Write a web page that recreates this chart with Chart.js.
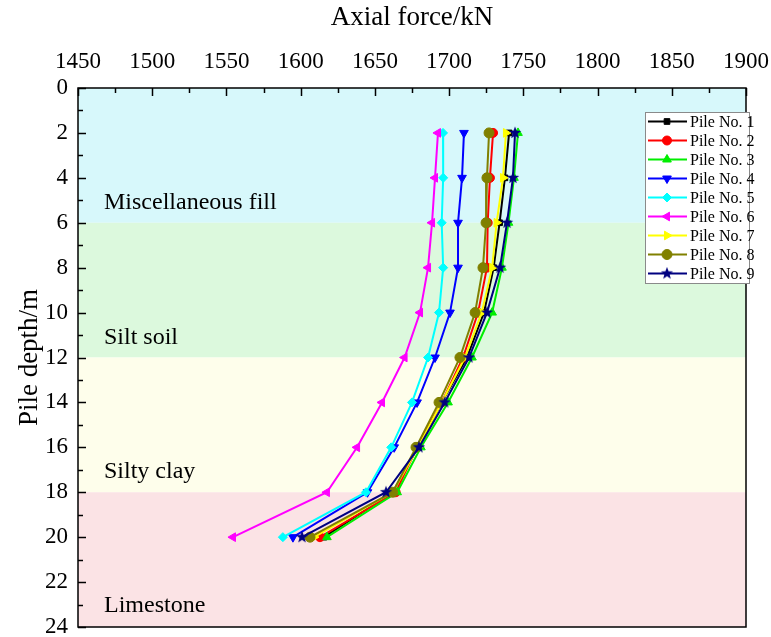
<!DOCTYPE html>
<html><head><meta charset="utf-8">
<script src="https://cdn.jsdelivr.net/npm/chart.js@4.4.1/dist/chart.umd.min.js"></script>
<style>html,body{margin:0;padding:0;background:#fff;overflow:hidden}</style>
</head><body>
<canvas id="c" width="771" height="637"></canvas>
<script>
// ---- data ----
const depths = [2, 4, 6, 8, 10, 12, 14, 16, 18, 20];
const pile1 = [1740.4, 1737.6, 1734.0, 1730.0, 1723.5, 1712.0, 1695.0, 1679.0, 1662.0, 1615.7];
const pile2 = [1729.6, 1727.5, 1726.0, 1725.5, 1719.5, 1709.4, 1695.0, 1678.4, 1664.0, 1613.0];
const pile3 = [1746.4, 1743.7, 1740.0, 1735.6, 1729.0, 1715.4, 1699.3, 1681.0, 1665.0, 1617.7];
const pile4 = [1710.0, 1708.7, 1706.0, 1706.0, 1700.6, 1690.5, 1678.4, 1663.0, 1645.0, 1594.8];
const pile5 = [1695.9, 1696.0, 1695.0, 1696.0, 1693.2, 1685.8, 1675.0, 1661.0, 1644.0, 1588.0];
const pile6 = [1692.5, 1690.5, 1688.5, 1685.8, 1680.4, 1670.0, 1654.8, 1638.0, 1617.7, 1554.4];
const pile7 = [1738.3, 1736.3, 1732.0, 1729.0, 1722.0, 1710.7, 1695.0, 1679.0, 1662.0, 1609.0];
const pile8 = [1726.9, 1725.5, 1724.9, 1722.8, 1717.5, 1707.3, 1693.2, 1677.7, 1662.0, 1606.3];
const pile9 = [1744.4, 1743.0, 1739.0, 1734.3, 1725.5, 1713.4, 1697.0, 1679.7, 1657.5, 1600.9];
const pileNames = ['Pile No. 1','Pile No. 2','Pile No. 3','Pile No. 4','Pile No. 5','Pile No. 6','Pile No. 7','Pile No. 8','Pile No. 9'];
const layerNames = ['Miscellaneous fill', 'Silt soil', 'Silty clay', 'Limestone'];
const layerTop = [0, 6, 12, 18];
const layerBottom = [6, 12, 18, 24];
const xTitle = 'Axial force/kN';
const yTitle = 'Pile depth/m';

// ---- styles ----
const SERIF = '"Liberation Serif", "Times New Roman", serif';
const pileColors = ['#000000','#ff0000','#00ee00','#0000ff','#00ffff','#ff00ff','#ffff00','#808000','#000080'];
const layerColors = ['#d7f8fb','#dcf9dd','#fefeeb','#fbe3e5'];
const layerLabelDepth = [5.1, 11.1, 17.1, 23.05];

function makeStar(color) {
  const cv = document.createElement('canvas');
  cv.width = 14; cv.height = 14;
  const g = cv.getContext('2d');
  g.fillStyle = color;
  g.beginPath();
  for (let i = 0; i < 10; i++) {
    const r = i % 2 === 0 ? 6.5 : 2.7;
    const a = -Math.PI / 2 + i * Math.PI / 5;
    const px = 7 + r * Math.cos(a), py = 7 + r * Math.sin(a);
    i === 0 ? g.moveTo(px, py) : g.lineTo(px, py);
  }
  g.closePath(); g.fill();
  return cv;
}
const starImg = makeStar('#000080');
const pointStyles = ['rect','circle','triangle','triangle','rectRot','triangle','triangle','circle', starImg];
const pointRot = [0, 0, 0, 180, 0, -90, 90, 0, 0];
const pointRad = [4, 4.5, 5, 5, 4.5, 5, 5, 5, 6];

const allPiles = [pile1, pile2, pile3, pile4, pile5, pile6, pile7, pile8, pile9];
const datasets = allPiles.map((vals, i) => ({
  label: pileNames[i],
  data: vals.map((v, k) => ({ x: v, y: depths[k] })),
  borderColor: pileColors[i],
  backgroundColor: pileColors[i],
  pointBackgroundColor: pileColors[i],
  pointBorderColor: pileColors[i],
  pointStyle: pointStyles[i],
  pointRotation: pointRot[i],
  pointRadius: pointRad[i],
  pointBorderWidth: 1,
  borderWidth: 2,
  showLine: true,
  tension: 0,
  order: 10 - i
}));

const bgPlugin = {
  id: 'bg',
  beforeDraw(chart) {
    const { ctx, chartArea: a, scales: { x, y } } = chart;
    ctx.save();
    ctx.fillStyle = '#ffffff';
    ctx.fillRect(0, 0, chart.width, chart.height);
    for (let i = 0; i < layerNames.length; i++) {
      const y0 = y.getPixelForValue(layerTop[i]);
      const y1 = y.getPixelForValue(layerBottom[i]);
      ctx.fillStyle = layerColors[i];
      ctx.fillRect(a.left, y0, a.right - a.left, y1 - y0);
    }
    ctx.fillStyle = '#000';
    ctx.font = '24px ' + SERIF;
    ctx.textBaseline = 'middle';
    ctx.textAlign = 'left';
    for (let i = 0; i < layerNames.length; i++) {
      ctx.fillText(layerNames[i], a.left + 26, y.getPixelForValue(layerLabelDepth[i]));
    }
    ctx.restore();
  },
  afterDatasetsDraw(chart) {
    const { ctx, chartArea: a, scales: { x, y } } = chart;
    ctx.save();
    ctx.strokeStyle = '#000';
    ctx.lineWidth = 1.5;
    ctx.strokeRect(a.left, a.top, a.right - a.left, a.bottom - a.top);
    ctx.beginPath();
    for (let v = x.min; v <= x.max + 1e-6; v += 25) {
      const px = Math.round(x.getPixelForValue(v)) + 0.5;
      const major = Math.abs((v - x.min) % 50) < 1e-6;
      ctx.moveTo(px, a.top);
      ctx.lineTo(px, a.top + (major ? 8 : 5));
    }
    for (let v = y.min; v <= y.max + 1e-6; v += 1) {
      const py = Math.round(y.getPixelForValue(v)) + 0.5;
      const major = v % 2 === 0;
      ctx.moveTo(a.left, py);
      ctx.lineTo(a.left + (major ? 8 : 5), py);
    }
    ctx.stroke();
    ctx.restore();
  },
  afterDraw(chart) {
    const { ctx } = chart;
    const bx = 645, by = 112, bw = 104, bh = 171;
    const rowH = bh / chart.data.datasets.length;
    ctx.save();
    ctx.fillStyle = '#ffffff';
    ctx.fillRect(bx, by, bw, bh);
    ctx.strokeStyle = '#8a8a8a';
    ctx.lineWidth = 1;
    ctx.strokeRect(bx + 0.5, by + 0.5, bw, bh);
    ctx.font = '16px ' + SERIF;
    ctx.textBaseline = 'middle';
    ctx.textAlign = 'left';
    chart.data.datasets.forEach((ds, i) => {
      const cy = by + rowH * (i + 0.5);
      ctx.strokeStyle = ds.borderColor;
      ctx.lineWidth = 2;
      ctx.beginPath();
      ctx.moveTo(bx + 3, cy); ctx.lineTo(bx + 42, cy);
      ctx.stroke();
      ctx.fillStyle = ds.backgroundColor;
      ctx.strokeStyle = ds.borderColor;
      ctx.lineWidth = 1;
      Chart.helpers.drawPoint(ctx, { pointStyle: ds.pointStyle, rotation: ds.pointRotation, radius: ds.pointRadius, borderWidth: 1 }, bx + 22, cy);
      ctx.fillStyle = '#000';
      ctx.fillText(ds.label, bx + 45, cy + 1);
    });
    ctx.restore();
  }
};

new Chart(document.getElementById('c'), {
  type: 'scatter',
  data: { datasets },
  options: {
    responsive: false,
    animation: false,
    devicePixelRatio: 1,
    layout: { padding: { left: 0, right: 25, top: 0, bottom: 10 } },
    plugins: { legend: { display: false }, tooltip: { enabled: false } },
    scales: {
      x: {
        type: 'linear', position: 'top', min: 1450, max: 1900,
        grid: { display: false, drawTicks: false },
        border: { display: false },
        ticks: { stepSize: 50, padding: 12, color: '#000', font: { family: SERIF, size: 23 }, callback: v => String(v) },
        title: { display: true, text: xTitle, color: '#000', padding: { top: 2, bottom: 0 }, font: { family: SERIF, size: 27 } },
        afterFit(s) { s.height = 88; s.paddingLeft = 0; s.paddingRight = 0; }
      },
      y: {
        type: 'linear', position: 'left', min: 0, max: 24, reverse: true,
        grid: { display: false, drawTicks: false },
        border: { display: false },
        ticks: { stepSize: 2, padding: 10, color: '#000', font: { family: SERIF, size: 23 }, callback: v => String(v) },
        title: { display: true, text: yTitle, color: '#000', padding: { top: 14, bottom: 0 }, font: { family: SERIF, size: 27 } },
        afterFit(s) { s.width = 78; s.paddingTop = 0; s.paddingBottom = 0; }
      }
    }
  },
  plugins: [bgPlugin]
});
</script>
</body></html>
